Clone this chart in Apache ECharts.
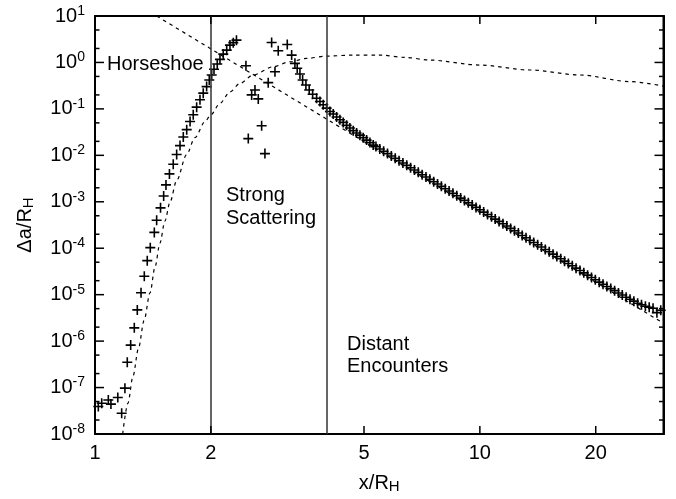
<!DOCTYPE html>
<html>
<head>
<meta charset="utf-8">
<script src="https://cdn.jsdelivr.net/npm/echarts@6/dist/echarts.min.js"></script>
<style>
html,body{margin:0;padding:0;background:#fff;}
#chart{width:676px;height:499px;}
</style>
</head>
<body>
<div id="chart"></div>
<script>
// ---- tick values ----
const xTicks = [1, 2, 5, 10, 20];
const yMajorTicks = [1e-8, 1e-7, 1e-6, 1e-5, 1e-4, 1e-3, 1e-2, 1e-1, 1, 10];
const yMinorTicks = [2e-8,5e-8,2e-7,5e-7,2e-6,5e-6,2e-5,5e-5,2e-4,5e-4,2e-3,5e-3,0.02,0.05,0.2,0.5,2,5];
const regionBounds = [2, 4];
const X_MIN = 1, X_MAX = 30, Y_MIN = 1e-8, Y_MAX = 10;

// ---- simulation points (+) ----
const horseshoeBranch = [
  [1.020,3.9e-8],[1.041,4.6e-8],[1.083,5.4e-8],[1.100,4.4e-8],[1.146,6.1e-8],[1.173,2.8e-8],
  [1.196,9.7e-8],[1.213,3.5e-7],[1.238,8.2e-7],[1.265,1.93e-6],[1.288,4.7e-6],[1.317,1.1e-5],
  [1.343,2.5e-5],[1.367,5.4e-5],[1.392,1.03e-4],[1.426,2.19e-4],[1.446,4.0e-4],[1.480,7.4e-4],
  [1.508,1.33e-3],[1.529,2.31e-3],[1.561,3.98e-3],[1.597,6.45e-3],[1.630,0.0104],[1.663,0.0162],
  [1.696,0.0249],[1.731,0.0357],[1.766,0.0537],[1.800,0.0748],[1.837,0.109],[1.874,0.157],
  [1.911,0.218],[1.950,0.302],[1.981,0.42],[2.010,0.537],[2.038,0.711],[2.078,0.924],
  [2.112,1.165],[2.154,1.51],[2.199,1.84],[2.242,2.36],[2.287,2.67],[2.331,3.02]
];
const scatteringPoints = [
  [2.467,0.85],[2.502,0.0229],[2.553,0.2],[2.604,0.256],[2.656,0.164],[2.710,0.0435],
  [2.764,0.0109],[2.819,0.367],[2.877,2.69],[2.935,0.632],[2.993,1.78],[3.159,2.44]
];
const distantBranch = [
  [3.243,1.44],[3.307,0.957],[3.353,0.748],[3.408,0.565],[3.463,0.42],[3.532,0.328],
  [3.602,0.256],[3.677,0.207],[3.765,0.170],[3.841,0.144],[3.917,0.1225],[3.998,0.104],
  [4.078,0.0879],[4.159,0.0774],[4.244,0.0668],[4.329,0.0585],[4.415,0.0512],[4.506,0.0442],
  [4.595,0.0388],[4.687,0.034],[4.783,0.0303],[4.879,0.0272],[4.976,0.0240],[5.078,0.0213],
  [5.179,0.0188],[5.283,0.0166],
  [5.370,0.0154],[5.495,0.0137],[5.623,0.0122],[5.754,0.0109],[5.888,0.00967],[6.026,0.00861],
  [6.166,0.00767],[6.310,0.00683],[6.457,0.00608],[6.607,0.00542],[6.761,0.00483],[6.918,0.0043],
  [7.079,0.00383],[7.244,0.00341],[7.413,0.00304],[7.586,0.0027],[7.762,0.00241],[7.943,0.00215],
  [8.128,0.00191],[8.318,0.0017],[8.511,0.00152],[8.710,0.00135],[8.913,0.0012],[9.120,0.00107],
  [9.333,9.54e-4],[9.550,8.49e-4],[9.772,7.57e-4],[10.00,6.74e-4],[10.23,6.0e-4],[10.47,5.34e-4],
  [10.72,4.76e-4],[10.96,4.24e-4],[11.22,3.78e-4],[11.48,3.36e-4],[11.75,3.0e-4],[12.02,2.67e-4],
  [12.30,2.38e-4],[12.59,2.12e-4],[12.88,1.88e-4],[13.18,1.68e-4],[13.49,1.49e-4],[13.80,1.33e-4],
  [14.13,1.19e-4],[14.45,1.06e-4],[14.79,9.41e-5],[15.14,8.38e-5],[15.49,7.46e-5],[15.85,6.65e-5],
  [16.22,5.92e-5],[16.60,5.27e-5],[16.98,4.69e-5],[17.38,4.18e-5],[17.78,3.72e-5],[18.20,3.32e-5],
  [18.62,2.95e-5],[19.05,2.63e-5],[19.50,2.34e-5],[19.95,2.09e-5],[20.42,1.86e-5],[20.89,1.67e-5],
  [21.38,1.5e-5],[21.88,1.35e-5],[22.39,1.22e-5],[22.91,1.09e-5],[23.44,9.82e-6],[23.99,8.83e-6],
  [24.55,7.94e-6],[25.12,7.26e-6],[25.70,6.55e-6],[26.30,6.05e-6],[26.92,5.62e-6],[27.54,5.37e-6],
  [28.18,5.11e-6],[28.84,4.1e-6],[29.51,4.62e-6]
];

// ---- theoretical curves (dashed) ----
const risingCurve = [
  [1.180,1e-8],[1.218,4.61e-8],[1.255,1.75e-7],[1.297,6.95e-7],[1.341,2.76e-6],[1.390,1.10e-5],
  [1.432,3.96e-5],[1.475,1.29e-4],[1.519,3.82e-4],[1.566,9.75e-4],[1.630,2.88e-3],[1.730,0.0104],
  [1.818,0.0240],[1.931,0.0530],[2.000,0.0748],[2.112,0.132],[2.242,0.232],[2.380,0.353],
  [2.577,0.537],[2.905,0.809],[3.210,1.035],[3.548,1.224],[4.000,1.371],[4.688,1.44],
  [5.500,1.44],[6.386,1.286],[7.418,1.125],[10.00,0.879],[13.49,0.688],[18.19,0.537],
  [24.53,0.386],[30.00,0.31]
];
const decayCurve = [[1.446,10],[30,2.42e-6]];

const FONT = 'Liberation Sans, Arial, Helvetica, sans-serif';
const plusSymbol = 'path://M0,4.2H10V5.8H0ZM4.2,0H5.8V10H4.2Z';
const TICK_COLOR = '#000';

const chart = echarts.init(document.getElementById('chart'), null, {renderer: 'canvas'});

function supLabel(v) {
  const e = Math.round(Math.log10(v));
  return '10{sup|' + e + '}';
}

const axisLineStyle = {show: true, lineStyle: {color: '#000', width: 2}};

// tick items: [xValue, yValue, kind]  kind 0: x tick, 1: y major, 2: y minor
const tickItems = [].concat(
  xTicks.map(v => [v, 1e-3, 0]),
  yMajorTicks.map(v => [5, v, 1]),
  yMinorTicks.map(v => [5, v, 2])
);

function tickRender(params, api) {
  const cs = params.coordSys;
  const kind = api.value(2);
  const p = api.coord([api.value(0), api.value(1)]);
  const st = {stroke: TICK_COLOR, lineWidth: 1.5};
  if (kind === 0) {
    const yb = cs.y + cs.height, yt = cs.y;
    return {type: 'group', children: [
      {type: 'line', shape: {x1: p[0], y1: yb, x2: p[0], y2: yb - 8}, style: st},
      {type: 'line', shape: {x1: p[0], y1: yt, x2: p[0], y2: yt + 8}, style: st}
    ]};
  }
  const len = kind === 1 ? 9 : 4.5;
  const xl = cs.x, xr = cs.x + cs.width;
  return {type: 'group', children: [
    {type: 'line', shape: {x1: xl, y1: p[1], x2: xl + len, y2: p[1]}, style: st},
    {type: 'line', shape: {x1: xr, y1: p[1], x2: xr - len, y2: p[1]}, style: st}
  ]};
}

const option = {
  animation: false,
  backgroundColor: '#fff',
  grid: {left: 95, right: 12.5, top: 16, bottom: 63, show: true, borderColor: '#000', borderWidth: 2, backgroundColor: 'transparent'},
  xAxis: [
    {
      type: 'log', logBase: 10, min: X_MIN, max: X_MAX, position: 'bottom',
      axisLine: axisLineStyle,
      axisTick: {show: false},
      axisLabel: {show: true, customValues: xTicks, margin: 9, color: '#000', fontSize: 20, fontFamily: FONT,
        formatter: v => String(Math.round(v * 1000) / 1000)},
      splitLine: {show: false}, minorTick: {show: false},
      name: 'x/R{sub|H}', nameLocation: 'middle', nameGap: 38,
      nameTextStyle: {color: '#000', fontSize: 20, fontFamily: FONT, lineHeight: 22,
        rich: {sub: {fontSize: 15, fontFamily: FONT, color: '#000', lineHeight: 12, verticalAlign: 'bottom'}}}
    },
    {
      type: 'log', logBase: 10, min: X_MIN, max: X_MAX, position: 'top',
      axisLine: axisLineStyle, axisTick: {show: false},
      axisLabel: {show: false}, splitLine: {show: false}
    }
  ],
  yAxis: [
    {
      type: 'log', logBase: 10, min: Y_MIN, max: Y_MAX, position: 'left',
      axisLine: axisLineStyle,
      axisTick: {show: false},
      axisLabel: {show: true, customValues: yMajorTicks, margin: 10, color: '#000', fontSize: 20, fontFamily: FONT,
        lineHeight: 24, formatter: supLabel,
        rich: {sup: {fontSize: 14, fontFamily: FONT, color: '#000', lineHeight: 12, verticalAlign: 'top'}}},
      splitLine: {show: false},
      name: 'Δa/R{sub|H}', nameLocation: 'middle', nameGap: 59, nameRotate: 90,
      nameTextStyle: {color: '#000', fontSize: 20, fontFamily: FONT, lineHeight: 22,
        rich: {sub: {fontSize: 15, fontFamily: FONT, color: '#000', lineHeight: 12, verticalAlign: 'bottom'}}}
    },
    {
      type: 'log', logBase: 10, min: Y_MIN, max: Y_MAX, position: 'right',
      axisLine: axisLineStyle, axisTick: {show: false},
      axisLabel: {show: false}, splitLine: {show: false}
    }
  ],
  series: [
    {
      type: 'line', name: 'decay', data: decayCurve, showSymbol: false, symbol: 'none',
      lineStyle: {color: '#000', width: 1.2, type: [3.5, 4]}, z: 2, silent: true
    },
    {
      type: 'line', name: 'rising', data: risingCurve, showSymbol: false, symbol: 'none',
      smooth: 0.3, smoothMonotone: 'x',
      lineStyle: {color: '#000', width: 1.2, type: [3.5, 4]}, z: 2, silent: true
    },
    {
      type: 'scatter', name: 'sim',
      data: horseshoeBranch.concat(scatteringPoints, distantBranch),
      symbol: plusSymbol, symbolSize: 10,
      itemStyle: {color: '#000', opacity: 1}, z: 3, silent: true,
      markLine: {
        silent: true, symbol: 'none', label: {show: false},
        lineStyle: {color: '#333', width: 1.5, type: 'solid'},
        data: regionBounds.map(v => ({xAxis: v}))
      }
    },
    {
      type: 'custom', name: 'ticks', coordinateSystem: 'cartesian2d',
      data: tickItems, encode: {x: 0, y: 1},
      renderItem: tickRender, clip: false, silent: true, z: 6
    }
  ],
  graphic: [
    {type: 'text', left: 107, top: 54, z: 10,
      style: {text: 'Horseshoe', fill: '#000', font: '20px ' + FONT}},
    {type: 'text', left: 226, top: 184, z: 10,
      style: {text: 'Strong\nScattering', fill: '#000', font: '20px ' + FONT, lineHeight: 23}},
    {type: 'text', left: 347, top: 333, z: 10,
      style: {text: 'Distant\nEncounters', fill: '#000', font: '20px ' + FONT, lineHeight: 22}}
  ]
};

chart.setOption(option);
</script>
</body>
</html>
